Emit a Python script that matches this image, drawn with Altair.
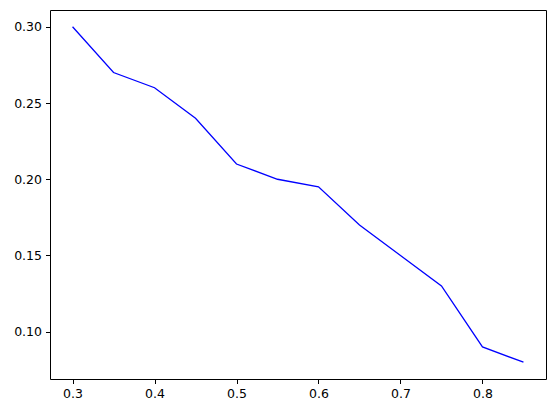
import altair as alt
import pandas as pd

x_vals = [0.30, 0.35, 0.40, 0.45, 0.50, 0.55, 0.60, 0.65, 0.70, 0.75, 0.80, 0.85]
y_vals = [0.300, 0.270, 0.260, 0.240, 0.210, 0.200, 0.195, 0.170, 0.150, 0.130, 0.090, 0.080]

df = pd.DataFrame({"x": x_vals, "y": y_vals})

axis_common = dict(
    title=None,
    labelFont="DejaVu Sans",
    labelFontSize=12.5,
    labelColor="black",
    tickColor="black",
    tickSize=4.5,
    tickWidth=1,
    labelPadding=4,
    domain=False,
    grid=False,
    labelFlush=False,
    labelOverlap=False,
)

chart = (
    alt.Chart(df)
    .mark_line(color="blue", strokeWidth=1.3)
    .encode(
        x=alt.X(
            "x:Q",
            scale=alt.Scale(domain=[0.2725, 0.8775], nice=False, zero=False),
            axis=alt.Axis(values=[0.3, 0.4, 0.5, 0.6, 0.7, 0.8], format=".1f", **axis_common),
        ),
        y=alt.Y(
            "y:Q",
            scale=alt.Scale(domain=[0.069, 0.311], nice=False, zero=False),
            axis=alt.Axis(values=[0.10, 0.15, 0.20, 0.25, 0.30], format=".2f", **axis_common),
        ),
    )
    .properties(
        width=496,
        height=369,
        autosize=alt.AutoSizeParams(type="none"),
        padding={"left": 42, "top": 2, "right": 2, "bottom": 26},
    )
    .configure_view(stroke="black", strokeWidth=1)
)

chart.save("out.html", embed_options={"renderer": "svg", "actions": False})
